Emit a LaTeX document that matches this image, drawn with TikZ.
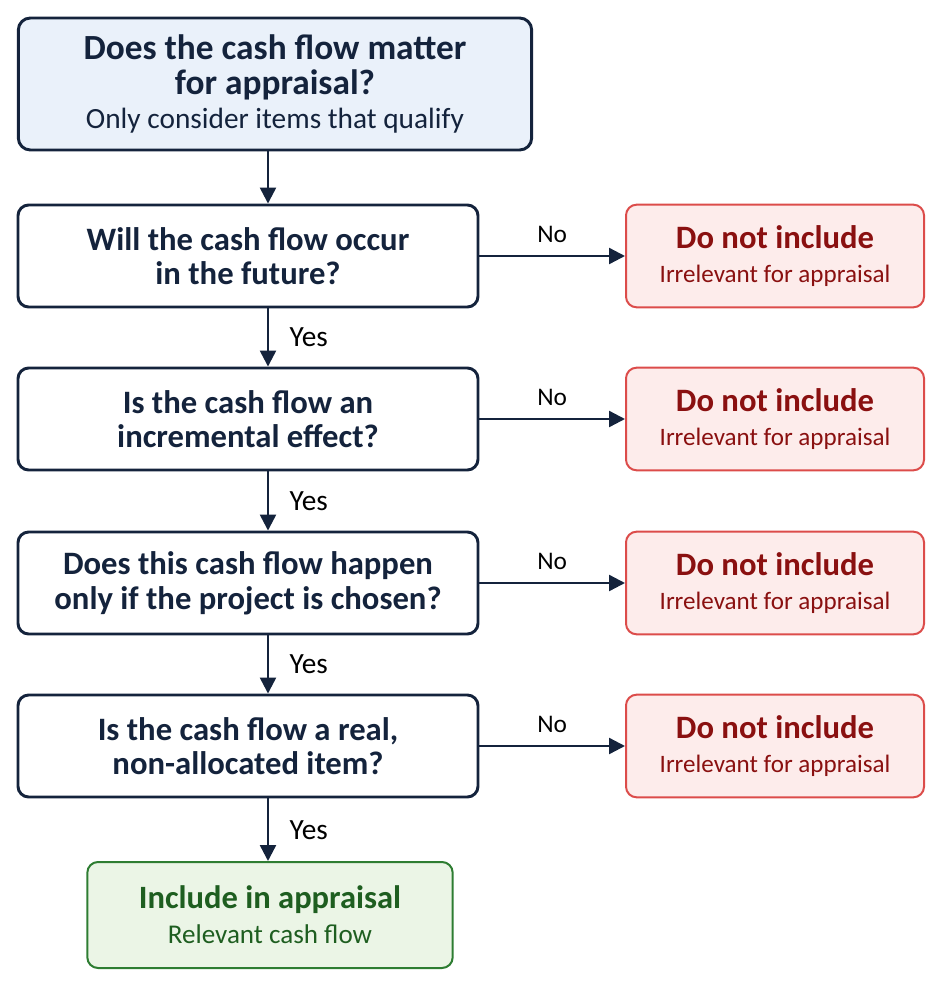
\documentclass[tikz,border=0pt]{standalone}
\usepackage{fontspec}
\setmainfont{Carlito}
\usetikzlibrary{arrows.meta}

\definecolor{navy}{HTML}{14233C}
\definecolor{topfill}{HTML}{EAF1FA}
\definecolor{noline}{HTML}{DC4C4A}
\definecolor{nofill}{HTML}{FDECEB}
\definecolor{notext}{HTML}{8A1010}
\definecolor{okline}{HTML}{2E7D32}
\definecolor{okfill}{HTML}{EBF5E6}
\definecolor{oktext}{HTML}{1E5E20}

\newcommand{\headfont}[1]{\fontsize{#1}{26}\selectfont\bfseries}
\newcommand{\subfont}[1]{\fontsize{#1}{26}\selectfont\mdseries}

\begin{document}
\begin{tikzpicture}[x=0.75pt, y=-0.75pt,
                    flow/.style={-{Triangle[length=12pt,width=12pt]}, navy, line width=1.8pt},
                    top node/.style={rectangle, rounded corners=9pt, draw=navy, fill=topfill, line width=2.2pt,
                      minimum width=385pt, minimum height=99pt, text width=370pt, align=flush center, text=navy},
                    question node/.style={rectangle, rounded corners=8pt, draw=navy, fill=white, line width=2.2pt,
                      minimum width=345pt, minimum height=76.5pt, text width=330pt, align=flush center, text=navy},
                    reject node/.style={rectangle, rounded corners=8pt, draw=noline, fill=nofill, line width=1.5pt,
                      minimum width=223.5pt, minimum height=77pt, text width=215pt, align=flush center, text=notext},
                    accept node/.style={rectangle, rounded corners=8pt, draw=okline, fill=okfill, line width=1.5pt,
                      minimum width=274pt, minimum height=79.5pt, text width=260pt, align=flush center, text=oktext},
                    answer/.style={text=black}]
  \useasboundingbox (0,0) rectangle (942,986);

  \node[top node] (top) at (275,84)
    {\headfont{26.5}Does the cash flow matter\\ for appraisal?\endgraf \subfont{22}Only consider items that qualify\endgraf};

  \node[question node] (q1) at (248,256) {\headfont{24.5}Will the cash flow occur\\ in the future?\endgraf};
  \node[question node] (q2) at (248,419) {\headfont{24.5}Is the cash flow an\\ incremental effect?\endgraf};
  \node[question node] (q3) at (248,583) {\headfont{24.5}Does this cash flow happen\\ only if the project is chosen?\endgraf};
  \node[question node] (q4) at (248,746) {\headfont{24.5}Is the cash flow a real,\\ non-allocated item?\endgraf};

  \foreach \i/\y in {1/256, 2/419, 3/583, 4/746}
    \node[reject node] (no\i) at (775,\y)
      {\headfont{24.5}Do not include\endgraf \subfont{18.8}Irrelevant for appraisal\endgraf};

  \node[accept node] (inc) at (270,915)
    {\headfont{24.4}Include in appraisal\endgraf \subfont{20.3}Relevant cash flow\endgraf};

  \coordinate (spine) at (268,0);

  % down the left column
  \draw[flow] (top.south -| spine) -- (q1.north -| spine);
  \draw[flow] (q1.south -| spine) -- node[answer, font=\subfont{22}, right=12pt] {Yes} (q2.north -| spine);
  \draw[flow] (q2.south -| spine) -- node[answer, font=\subfont{22}, right=12pt] {Yes} (q3.north -| spine);
  \draw[flow] (q3.south -| spine) -- node[answer, font=\subfont{22}, right=12pt] {Yes} (q4.north -| spine);
  \draw[flow] (q4.south -| spine) -- node[answer, font=\subfont{22}, right=12pt] {Yes} (inc.north -| spine);

  % off to the right
  \foreach \i in {1,...,4}
    \draw[flow] (q\i.east) -- node[answer, font=\subfont{19}, above=6pt] {No} (no\i.west);
\end{tikzpicture}
\end{document}
